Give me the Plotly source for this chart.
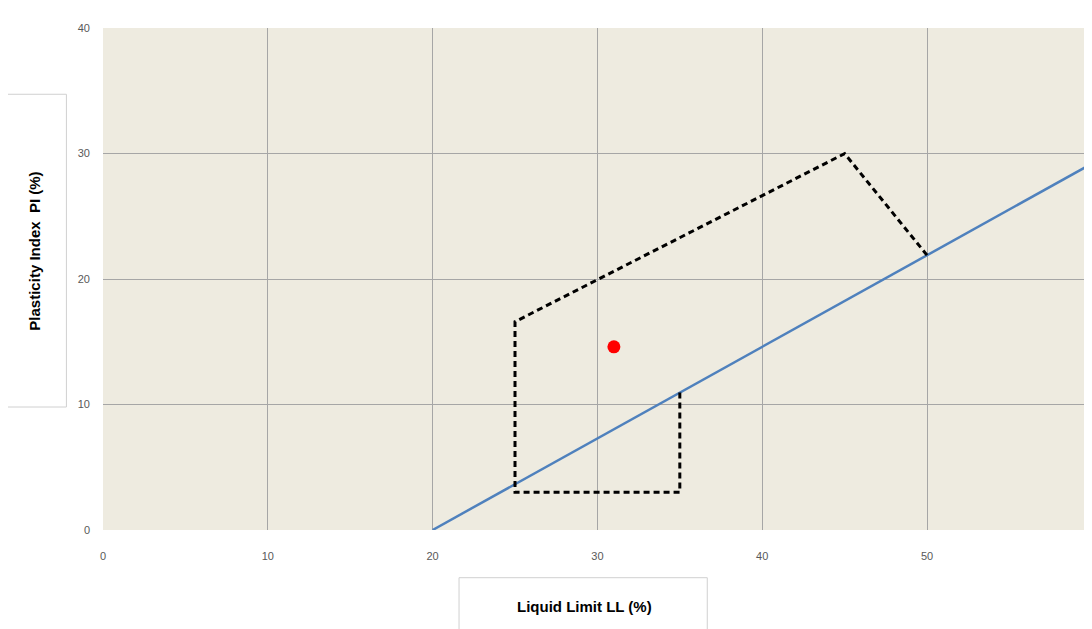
import plotly.graph_objects as go

a_line_ll = [20, 60]
a_line_pi = [0, 29.2]
zone_ll = [35, 35, 25, 25, 45, 50]
zone_pi = [10.95, 3, 3, 16.6, 30, 21.9]
sample_ll = [31]
sample_pi = [14.6]
x_ticks = [0, 10, 20, 30, 40, 50, 60]
y_ticks = [0, 10, 20, 30, 40]

fig = go.Figure()
fig.add_trace(go.Scatter(x=a_line_ll, y=a_line_pi, mode="lines",
                         line=dict(color="#4F81BD", width=2.5), showlegend=False))
fig.add_trace(go.Scatter(x=zone_ll, y=zone_pi, mode="lines",
                         line=dict(color="black", width=3, dash="6px,4px"), showlegend=False))
fig.add_trace(go.Scatter(x=sample_ll, y=sample_pi, mode="markers",
                         marker=dict(color="red", size=13), showlegend=False))

fig.update_layout(
    width=1088, height=621,
    margin=dict(l=95, r=4, t=20, b=99),
    paper_bgcolor="white", plot_bgcolor="#EEEBE0",
    xaxis=dict(range=[0, 60.01], tickvals=x_ticks, showgrid=True, gridcolor="#A6A6A6",
               gridwidth=1, zeroline=False, showline=False, automargin=False,
               ticklabelstandoff=18,
               tickfont=dict(size=11, color="#595959", family="Liberation Sans")),
    yaxis=dict(range=[0, 40.01], tickvals=y_ticks, showgrid=True, gridcolor="#A6A6A6",
               gridwidth=1, zeroline=False, showline=False, automargin=False,
               ticklabelstandoff=12,
               tickfont=dict(size=11, color="#595959", family="Liberation Sans")),
    shapes=[
        dict(type="rect", xref="paper", yref="paper", x0=-0.097, x1=-0.037,
             y0=0.245, y1=0.868, fillcolor="white", line=dict(color="#D0D0D0", width=1),
             layer="above"),
        dict(type="rect", xref="paper", yref="paper", x0=0.36, x1=0.611,
             y0=-0.2, y1=-0.095, fillcolor="white", line=dict(color="#D0D0D0", width=1),
             layer="above"),
    ],
    annotations=[
        dict(text="<b>Plasticity Index  PI (%)</b>", xref="paper", yref="paper",
             x=-0.069, y=0.556, textangle=-90, showarrow=False,
             xanchor="center", yanchor="middle",
             font=dict(size=15, color="black", family="Liberation Sans")),
        dict(text="<b>Liquid Limit LL (%)</b>", xref="paper", yref="paper",
             x=0.487, y=-0.153, showarrow=False, xanchor="center", yanchor="middle",
             font=dict(size=15, color="black", family="Liberation Sans")),
    ],
)
fig.write_html("out.html")
